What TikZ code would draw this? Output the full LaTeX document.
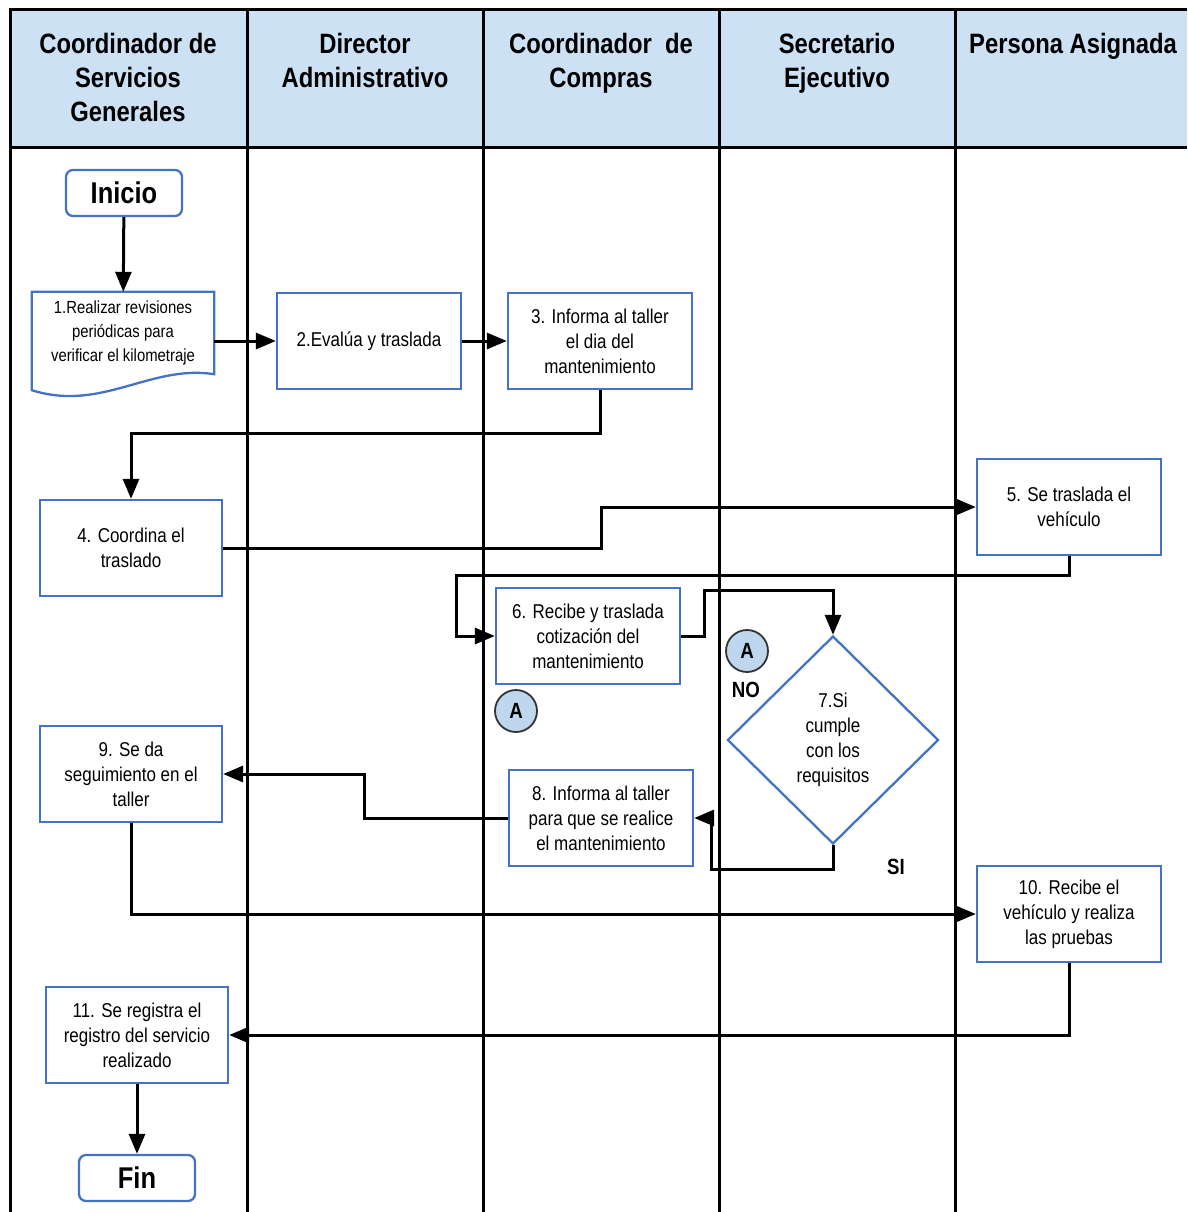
\documentclass[tikz,border=0pt]{standalone}
\usepackage{fontspec}
\setmainfont{Liberation Sans}[FakeStretch=0.85]
\usetikzlibrary{arrows.meta, positioning, shapes.geometric}
\definecolor{boxblue}{RGB}{68,114,196}
\definecolor{headfill}{RGB}{204,225,244}
\definecolor{connfill}{RGB}{190,214,238}

\begin{document}
\begin{tikzpicture}[x=1pt, y=-1pt,
  lanehead/.style={font=\bfseries\fontsize{28}{34}\selectfont, align=center, anchor=north, inner sep=0pt},
  proc/.style={draw=boxblue, line width=2.3pt, fill=white, minimum width=184pt,
               minimum height=96pt, align=center, font=\fontsize{20}{25}\selectfont},
  term/.style={draw=boxblue, line width=2.3pt, fill=white, rounded corners=7pt,
               minimum width=116pt, minimum height=46pt, font=\bfseries\fontsize{30}{34}\selectfont},
  dec/.style={diamond, draw=boxblue, line width=2.3pt, fill=white, minimum width=211pt,
              minimum height=208pt, inner sep=0pt, align=center, font=\fontsize{20}{25}\selectfont},
  connA/.style={circle, draw=black!80, line width=1.8pt, fill=connfill, minimum size=42pt,
                inner sep=0pt, font=\bfseries\fontsize{22}{24}\selectfont},
  flow/.style={-{Triangle[length=20pt, width=16pt]}, line width=3pt},
  lbl/.style={font=\bfseries\fontsize{22}{24}\selectfont}
]
  \useasboundingbox (0,0) rectangle (1187,1212);

  % Lanes
  \fill[headfill] (10,10) rectangle (1187,147);
  \draw[line width=3pt] (1187,10) -- (10,10) -- (10,1212);
  \draw[line width=3pt] (10,147) -- (1187,147);
  \draw[line width=3pt] (247,10) -- (247,1212);
  \draw[line width=3pt] (483,10) -- (483,1212);
  \draw[line width=3pt] (719,10) -- (719,1212);
  \draw[line width=3pt] (955,10) -- (955,1212);

  \node[lanehead] (h1) at (128,33) {Coordinador de\\Servicios\\Generales};
  \node[lanehead] (h2) at (365,33) {Director\\Administrativo};
  \node[lanehead] (h3) at (601,33) {Coordinador\ \ de\\Compras};
  \node[lanehead] (h4) at (837,33) {Secretario\\Ejecutivo};
  \node[lanehead] (h5) at (1073,33) {Persona Asignada};

  % Steps
  \node[term] (ini) at (124,193) {Inicio};
  \node[minimum width=182pt, minimum height=82pt, align=center,
        font=\fontsize{17.5}{24}\selectfont] (n1) at (123,333)
        {1.Realizar revisiones\\periódicas para\\verificar el kilometraje};
  \node[proc] (n2) at (369,341) {2.Evalúa y traslada};
  \node[proc] (n3) at (600,341) {3. Informa al taller\\el dia del\\mantenimiento};
  \node[proc, minimum width=182pt] (n4) at (131,548) {4. Coordina el\\traslado};
  \node[proc] (n5) at (1069,507) {5. Se traslada el\\vehículo};
  \node[proc] (n6) at (588,636) {6. Recibe y traslada\\cotización del\\mantenimiento};
  \node[dec] (n7) at (833,740) {7.Si\\cumple\\con los\\requisitos};
  \node[proc] (n8) at (601,818) {8. Informa al taller\\para que se realice\\el mantenimiento};
  \node[proc, minimum width=182pt] (n9) at (131,774) {9. Se da\\seguimiento en el\\taller};
  \node[proc] (n10) at (1069,914) {10. Recibe el\\vehículo y realiza\\las pruebas};
  \node[proc, minimum width=182pt] (n11) at (137,1035) {11. Se registra el\\registro del servicio\\realizado};
  \node[term] (fin) at (137,1178) {Fin};

  % Document outline of step 1
  \draw[draw=boxblue, line width=2.3pt] (n1.north west) -- (n1.north east) -- (n1.south east)
    .. controls +(-64,-10) and +(70,22) .. ([yshift=-16pt]n1.south west) -- cycle;

  % Off-page connectors and labels
  \node[connA] (a1) at (747,651) {A};
  \node[connA] (a2) at (516,711) {A};
  \node[lbl] (no) at (746,690) {NO};
  \node[lbl] (si) at (896,867) {SI};

  % Flow
  \draw[flow] (ini) -- (n1);
  \draw[flow] (n2.west -| n1.east) -- (n2.west);
  \draw[flow] (n2) -- (n3);
  \draw[flow] (n3.south) -- ++(0,43) -| (n4.north);
  \draw[flow] (n4.east) -- ++(378,0) |- (n5.west);
  \draw[flow] (n5.south) -- ++(0,19) -| ([xshift=-38pt]n6.west) -- (n6.west);
  \draw[flow] (n6.east) -- ++(23,0) |- ([yshift=44pt]n7.north) -- (n7.north);
  \draw[flow] (n7.south) -- ++(0,24) -| ([xshift=17pt]n8.east) -- (n8.east);
  \draw[flow] (n8.west) -- ++(-143,0) |- (n9.east);
  \draw[flow] (n9.south) |- (n10.west);
  \draw[flow] (n10.south) |- (n11.east);
  \draw[flow] (n11) -- (fin);

\end{tikzpicture}
\end{document}
